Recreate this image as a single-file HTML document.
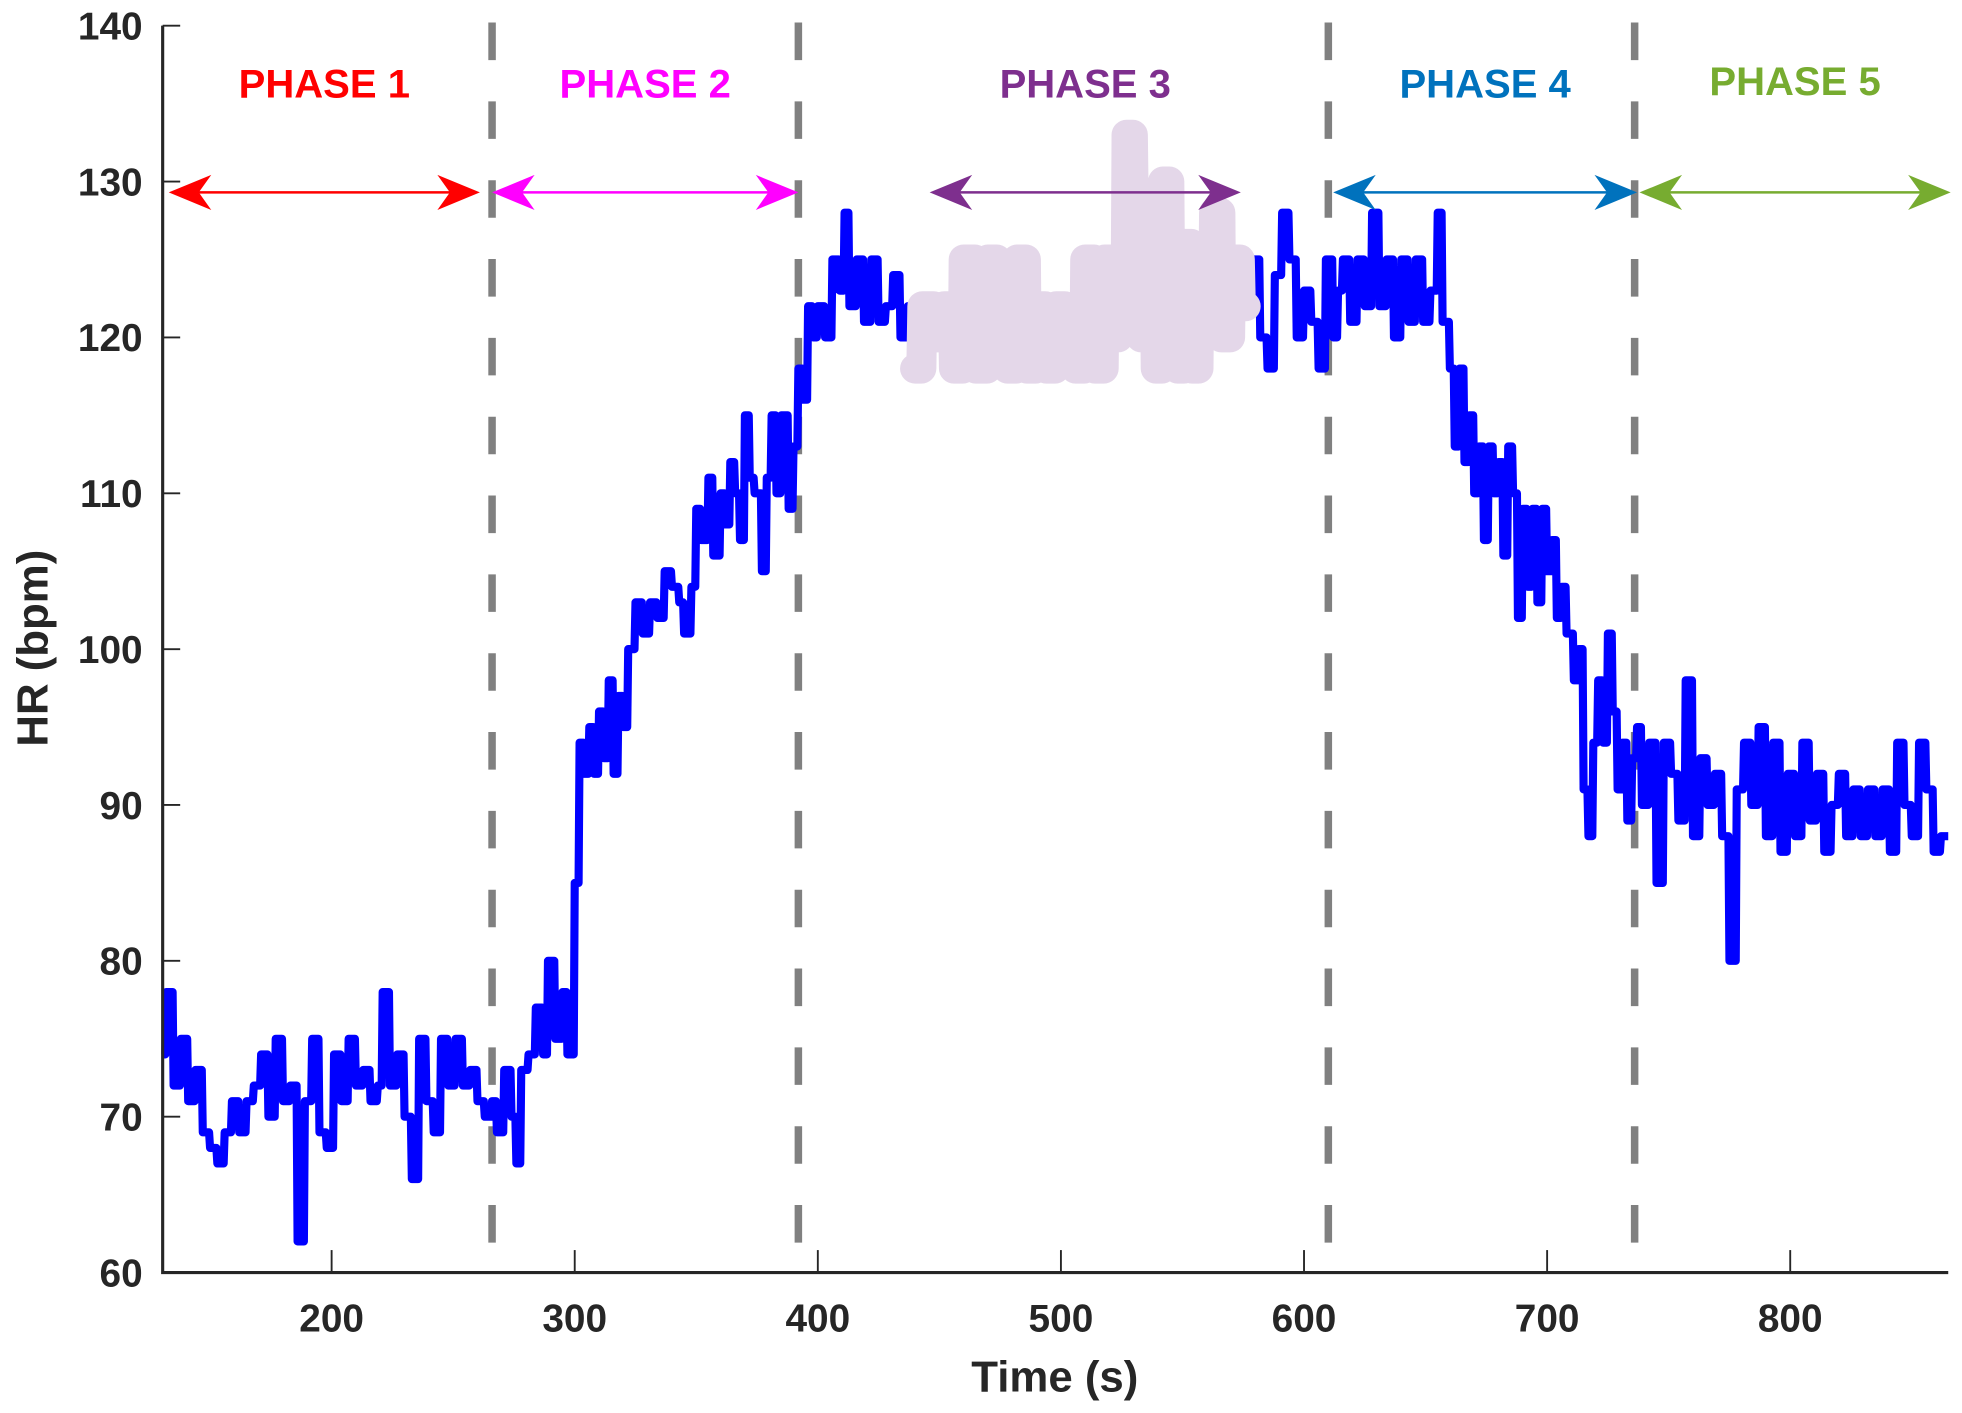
<!DOCTYPE html>
<html><head><meta charset="utf-8"><style>
html,body{margin:0;padding:0;background:#fff;}
svg{display:block;}
text{font-family:"Liberation Sans",sans-serif;font-weight:bold;}
</style></head><body>
<svg id="chart" width="1962" height="1413" viewBox="0 0 1568 1129.2" preserveAspectRatio="none" xmlns="http://www.w3.org/2000/svg">
</svg>
<script>
const times = [130,132,135,138,141,144,147,150,153,156,159,162,165,168,171,174,177,180,183,186,189,192,195,198,201,204,207,210,213,216,219,221,224,227,230,233,236,239,242,245,248,251,254,257,260,263,266,268,271,274,276,
278,281,284,287,289,292,295,297,300,302,304,306,308,310,312,314,316,318,320,322,325,328,331,334,337,340,343,345,348,350,352,355,357,360,362,364,366,368,370,372,374,377,379,381,383,385,388,390,392,394,396,398,
400,403,406,409,411,413,416,419,422,425,428,431,434,437,440,
443,448,452,456,460,465,470,474,478,482,486,490,494,498,502,506,510,514,518,521,524,527,530,533,536,539,542,545,548,551,554,557,560,563,566,570,574,
576,579,582,585,588,591,594,597,600,603,606,609,612,614,
616,619,622,625,628,631,634,637,640,643,646,649,652,655,657,660,662,664,666,668,670,672,674,676,678,680,682,684,686,688,690,692,694,696,698,700,702,704,706,708,711,713,715,717,719,721,723,725,727,729,731,733,735,
737,739,742,745,748,751,754,757,760,763,766,769,772,775,778,781,784,787,790,793,796,799,802,805,808,811,814,817,820,823,826,829,832,835,838,841,844,847,850,853,856,859,862,865];
const hr = [74,78,72,75,71,73,69,68,67,69,71,69,71,72,74,70,75,71,72,62,71,75,69,68,74,71,75,72,73,71,72,78,72,74,70,66,75,71,69,75,72,75,72,73,71,70,71,69,73,70,67,
73,74,77,74,80,75,78,74,85,94,92,95,92,96,93,98,92,97,95,100,103,101,103,102,105,104,103,101,104,109,107,111,106,110,108,112,110,107,115,111,110,105,111,115,110,115,109,113,118,116,122,120,
122,120,125,123,128,122,125,121,125,121,122,124,120,122,118,
122,120,122,118,125,118,125,120,118,125,118,122,118,122,120,118,125,118,125,120,122,133,128,120,125,118,130,122,118,126,118,125,122,128,120,125,122,
122,125,120,118,124,128,125,120,123,121,118,125,120,123,
125,121,125,122,128,122,125,120,125,121,125,121,123,128,121,118,113,118,112,115,110,113,107,113,110,112,106,113,110,102,109,104,109,103,109,105,107,102,104,101,98,100,91,88,94,98,94,101,96,91,94,89,93,
95,90,94,85,94,92,89,98,88,93,90,92,88,80,91,94,90,95,88,94,87,92,88,94,89,92,87,90,92,88,91,88,91,88,91,87,94,90,88,94,91,87,88,88];
const yTicks = [60,70,80,90,100,110,120,130,140];
const xTicks = [200,300,400,500,600,700,800];
const phaseBounds = [266,392,610,736];
const phaseLabels = ["PHASE 1","PHASE 2","PHASE 3","PHASE 4","PHASE 5"];
const phaseColors = ["#ff0000","#ff00ff","#7e2f8e","#0072bd","#77ac30"];
const arrowStart = [133,266,446,612,738];
const arrowEnd = [261,392,574,737,866];
const highlightRange = [440,576];

const NS="http://www.w3.org/2000/svg";
const svg=document.getElementById('chart');
const X0=130.5,X1=865,PX0=130,PX1=1557;
const Y0=60,Y1=140,PY0=1017,PY1=20.5;
const sx=v=>PX0+(v-X0)*(PX1-PX0)/(X1-X0);
const sy=v=>PY0-(v-Y0)*(PY0-PY1)/(Y1-Y0);
function mk(tag,attrs,parent){const e=document.createElementNS(NS,tag);for(const k in attrs)e.setAttribute(k,attrs[k]);(parent||svg).appendChild(e);return e;}

phaseBounds.forEach((b)=>{
  const l=mk('line',{x1:sx(b),x2:sx(b),y1:18,y2:1025,stroke:'#808080','stroke-width':6,'stroke-dasharray':'30 33'});
  
  
});

function stepPath(ts,vs){let d='';for(let i=0;i<ts.length;i++){const x=sx(ts[i]),y=sy(vs[i]);if(i===0)d+=`M${x},${y}`;else d+=`L${x-0.8},${sy(vs[i-1])}L${x},${y}`;}return d;}
const blue=mk('path',{d:stepPath(times,hr),fill:'none',stroke:'#0000ff','stroke-width':6.5,'stroke-linejoin':'round'});


const ht=[],hv=[];
times.forEach((t,i)=>{if(t>=highlightRange[0]&&t<=highlightRange[1]){ht.push(t);hv.push(hr[i]);}});
const lav=mk('path',{d:stepPath(ht,hv),fill:'none',stroke:'#e4d7e9','stroke-width':24,'stroke-linejoin':'round','stroke-linecap':'round'});



const ax=mk('path',{d:`M${PX0},${PY1}L${PX0},${PY0}L${PX1},${PY0}`,fill:'none',stroke:'#262626','stroke-width':2.5});


yTicks.forEach(v=>{
  const t=mk('line',{x1:PX0,x2:PX0+14,y1:sy(v),y2:sy(v),stroke:'#262626','stroke-width':1.5});
  
  
  const tx=mk('text',{x:114,y:sy(v)+11,'text-anchor':'end','font-size':31,fill:'#262626'});
  tx.textContent=v;
  
  
});
xTicks.forEach(v=>{
  const t=mk('line',{x1:sx(v),x2:sx(v),y1:PY0,y2:PY0-18,stroke:'#262626','stroke-width':1.5});
  
  
  const tx=mk('text',{x:sx(v),y:1064,'text-anchor':'middle','font-size':31,fill:'#262626'});
  tx.textContent=v;
  
  
});
const xl=mk('text',{x:843,y:1112,'text-anchor':'middle','font-size':35,fill:'#262626'});
xl.textContent='Time (s)';


const yl=mk('text',{x:0,y:0,'text-anchor':'middle','font-size':35,fill:'#262626',transform:'translate(38,518) rotate(-90)'});
yl.textContent='HR (bpm)';



const ay=sy(129.3);
function head(x,dir,c){const p=`M${x},${ay}L${x-dir*34},${ay-14}L${x-dir*24},${ay}L${x-dir*34},${ay+14}Z`;return mk('path',{d:p,fill:c});}
phaseLabels.forEach((lab,i)=>{
  const c=phaseColors[i];
  const a=sx(arrowStart[i]),b=sx(arrowEnd[i]);
  const ln=mk('line',{x1:a+20,x2:b-20,y1:ay,y2:ay,stroke:c,'stroke-width':2});
  
  
  const h1=head(a,-1,c);
  
  
  const h2=head(b,1,c);
  
  
  const tx=mk('text',{x:(a+b)/2,y:i===4?76:78,'text-anchor':'middle','font-size':32,fill:c});
  tx.textContent=lab;
  
  
});
</script>
</body></html>
